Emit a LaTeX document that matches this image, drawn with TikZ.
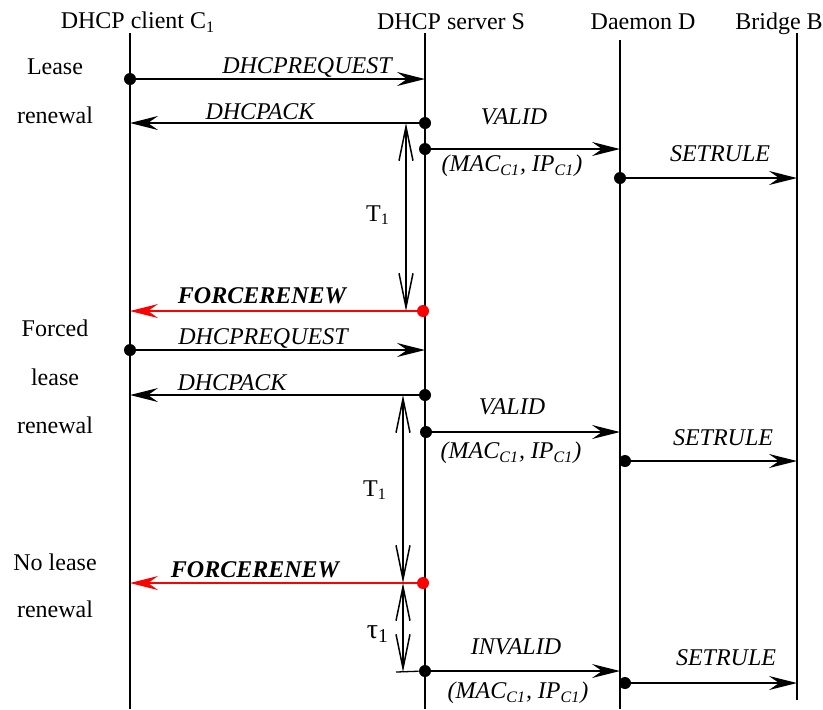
\documentclass[tikz,border=0pt]{standalone}
\usepackage{fontspec}
\setmainfont{Liberation Serif}
\usetikzlibrary{arrows.meta}

\begin{document}
\begin{tikzpicture}[x=0.5pt, y=-0.5pt,
          every node/.style = {font=\fontsize{12}{14}\selectfont},
          life/.style = {line width=0.65pt},
          msg/.style = {line width=0.8pt, -{Stealth[length=14pt, width=7pt, inset=5pt]}},
          force/.style = {red, line width=0.55pt, -{Stealth[length=14pt, width=7pt, inset=5pt]}},
          span/.style = {line width=0.75pt, {Straight Barb[length=17pt, width=7pt]}-{Straight Barb[length=17pt, width=7pt]}},
          dot/.style = {circle, fill, inner sep=0pt, minimum size=6pt},
          rdot/.style = {dot, red},
          lbl/.style = {font=\fontsize{12}{14}\selectfont\itshape},
          blbl/.style = {font=\fontsize{12}{14}\selectfont\bfseries\itshape}]
        \useasboundingbox (0,0) rectangle (823,709);
        % heads
        \node (hc) at (138,22) {DHCP client C\textsubscript{1}};
        \node (hs) at (451,22) {DHCP server S};
        \node (hd) at (643,22) {Daemon D};
        \node (hb) at (779,24) {Bridge B};
        \foreach \n/\x/\t/\b in {c/130/33/709, s/425/33/709, d/620/40/709, b/797/33/700}
                 {
                   \coordinate (\n top) at (\x,\t);
                   \coordinate (\n bot) at (\x,\b);
                   \draw[life] (\n top) -- (\n bot);
                 }
        % phase labels
        \node (p1) at (55,67) {Lease};
        \node (p2) at (55,115) {renewal};
        \node (p3) at (55,328) {Forced};
        \node (p4) at (55,377) {lease};
        \node (p5) at (55,425) {renewal};
        \node (p6) at (55,562) {No lease};
        \node (p7) at (55,609) {renewal};
        % lease renewal
        \node[dot] (req1) at (130,79) {};
        \coordinate (req1s) at (425,79);
        \draw[msg] (req1) -- (req1s);
        \node[lbl] (req1l) at (307,67) {DHCPREQUEST};
        \node[dot] (ack1) at (425,123) {};
        \coordinate (ack1c) at (130,123);
        \draw[msg] (ack1) -- (ack1c);
        \node[lbl] (ack1l) at (260,112) {DHCPACK};
        \node[dot] (val1) at (425,149) {};
        \coordinate (val1d) at (620,149);
        \draw[msg] (val1) -- (val1d);
        \node[lbl] (val1l) at (514,117) {VALID};
        \node[lbl] (mac1) at (512,166) {(MAC\textsubscript{C1}, IP\textsubscript{C1})};
        \node[dot] (set1) at (620,178) {};
        \coordinate (set1b) at (797,178);
        \draw[msg] (set1) -- (set1b);
        \node[lbl] (set1l) at (720,154) {SETRULE};
        \coordinate (t1a) at (406,123);
        \coordinate (t1b) at (406,311);
        \draw[span] (t1a) -- (t1b);
        \node (t1l) at (378,215) {T\textsubscript{1}};
        % forced lease renewal
        \node[rdot] (fr1) at (423,311) {};
        \coordinate (fr1c) at (130,311);
        \draw[force] (fr1) -- (fr1c);
        \node[blbl] (fr1l) at (262,296) {FORCERENEW};
        \node[dot] (req2) at (130,350) {};
        \coordinate (req2s) at (425,350);
        \draw[msg] (req2) -- (req2s);
        \node[lbl] (req2l) at (263,338) {DHCPREQUEST};
        \node[dot] (ack2) at (425,395) {};
        \coordinate (ack2c) at (130,395);
        \draw[msg] (ack2) -- (ack2c);
        \node[lbl] (ack2l) at (232,383) {DHCPACK};
        \node[dot] (val2) at (426,432) {};
        \coordinate (val2d) at (620,432);
        \draw[msg] (val2) -- (val2d);
        \node[lbl] (val2l) at (512,407) {VALID};
        \node[lbl] (mac2) at (511,453) {(MAC\textsubscript{C1}, IP\textsubscript{C1})};
        \node[dot] (set2) at (625,461) {};
        \coordinate (set2b) at (797,461);
        \draw[msg] (set2) -- (set2b);
        \node[lbl] (set2l) at (723,438) {SETRULE};
        \coordinate (t2a) at (403,395);
        \coordinate (t2b) at (403,583);
        \draw[span] (t2a) -- (t2b);
        \node (t2l) at (375,490) {T\textsubscript{1}};
        % no lease renewal
        \node[rdot] (fr2) at (423,583) {};
        \coordinate (fr2c) at (130,583);
        \draw[force] (fr2) -- (fr2c);
        \node[blbl] (fr2l) at (255,570) {FORCERENEW};
        \coordinate (tau1a) at (403,583);
        \coordinate (tau1b) at (403,672);
        \draw[span] (tau1a) -- (tau1b);
        \node[font=\fontsize{14}{16}\selectfont] (tau1l) at (378,634) {τ\textsubscript{1}};
        \node[dot] (inv) at (425,671) {};
        \coordinate (invd) at (620,671);
        \coordinate (tick) at (396,672);
        \draw[life] (tick) -- (inv);
        \draw[msg] (inv) -- (invd);
        \node[lbl] (invl) at (516,647) {INVALID};
        \node[lbl] (mac3) at (518,693) {(MAC\textsubscript{C1}, IP\textsubscript{C1})};
        \node[dot] (set3) at (625,683) {};
        \coordinate (set3b) at (797,683);
        \draw[msg] (set3) -- (set3b);
        \node[lbl] (set3l) at (726,658) {SETRULE};
\end{tikzpicture}
\end{document}
